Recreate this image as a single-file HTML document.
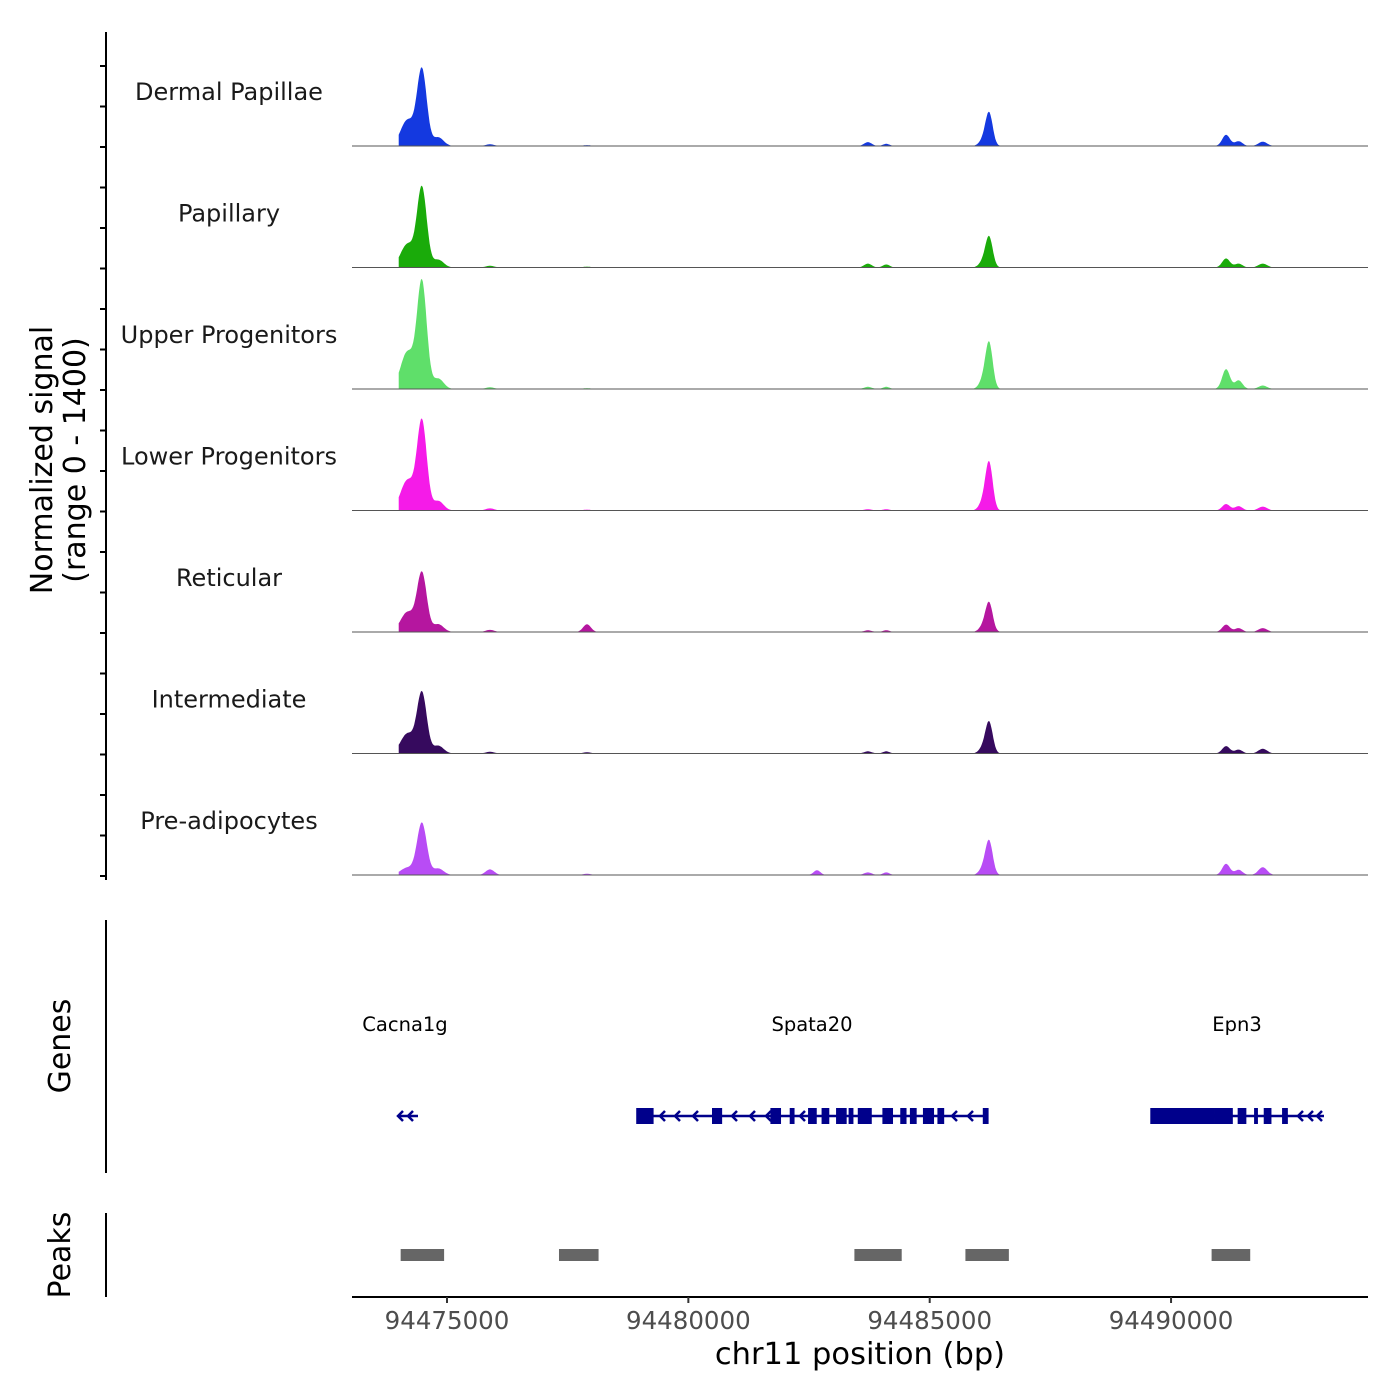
<!DOCTYPE html>
<html><head><meta charset="utf-8"><style>
body{margin:0;background:#fff}
svg{display:block;font-family:"DejaVu Sans","Liberation Sans",sans-serif}
</style></head><body>
<svg id="chart" width="1400" height="1400" viewBox="0 0 1400 1400" xmlns="http://www.w3.org/2000/svg"></svg>
<script>
const trackNames=["Dermal Papillae","Papillary","Upper Progenitors","Lower Progenitors","Reticular","Intermediate","Pre-adipocytes"];
const trackColors=["#1439e0","#1aab0a","#5fdf6a","#f51be8","#b5169f","#360a5e","#b84cf5"];
const peakCenters=[94474180,94474480,94474820,94477900,94475890,94482665,94483720,94484100,94486100,94486230,94491140,94491400,94491900];
const peakWidths=[140,100,110,80,90,70,80,70,80,75,80,80,90];
const heightsDermal=[300,880,100,10,20,0,45,25,60,380,130,55,50];
const heightsPapillary=[270,920,90,10,20,0,45,35,60,350,105,45,45];
const heightsUpper=[430,1230,120,10,20,0,25,25,90,530,230,100,40];
const heightsLower=[350,1030,110,10,25,0,15,15,90,550,75,50,45];
const heightsReticular=[230,680,90,90,25,0,20,20,60,335,85,45,45];
const heightsIntermediate=[230,700,90,15,20,0,25,25,60,360,85,45,55];
const heightsPre=[85,600,75,15,65,55,30,30,70,390,130,60,90];
const trackHeights=[heightsDermal,heightsPapillary,heightsUpper,heightsLower,heightsReticular,heightsIntermediate,heightsPre];
const trackStart=94474000, trackEnd=94493080;
const xTicks=[94475000,94480000,94485000,94490000];
const xTickLabels=["94475000","94480000","94485000","94490000"];
const peakRegions=[[94474040,94474940],[94477320,94478140],[94483440,94484420],[94485740,94486640],[94490840,94491640]];
const spataExons=[[94478920,94479280],[94480490,94480700],[94481700,94481920],[94482100,94482200],[94482480,94482660],[94482760,94482920],[94483060,94483280],[94483320,94483420],[94483510,94483800],[94484020,94484240],[94484390,94484520],[94484590,94484730],[94484860,94485090],[94485160,94485300],[94486100,94486220]];
const epnExons=[[94489570,94490900],[94490900,94491280],[94491380,94491560],[94491720,94491800],[94491920,94492080],[94492300,94492420]];

const svg=document.getElementById('chart');
const NS="http://www.w3.org/2000/svg";
const x=bp=>447+(bp-94475000)*0.04827;
const trackH=121.5, base0=146;
const yv=v=>v*121/1400;
function mk(tag,attrs,txt){const e=document.createElementNS(NS,tag);for(const k in attrs)e.setAttribute(k,attrs[k]);if(txt!==undefined)e.textContent=txt;svg.appendChild(e);return e;}

let e=mk('line',{x1:106,y1:32,x2:106,y2:880,stroke:'#000','stroke-width':2});


for(let i=0;i<=21;i++){const ty=base0-trackH+ (i)*trackH/3 +1; if(ty<35||ty>880)continue;
 e=mk('line',{x1:100,y1:ty,x2:106,y2:ty,stroke:'#000','stroke-width':2});
 
 }
e=mk('text',{x:0,y:0,'font-size':30,'text-anchor':'middle',transform:'translate(52,460) rotate(-90)'},'Normalized signal');


e=mk('text',{x:0,y:0,'font-size':30,'text-anchor':'middle',transform:'translate(85,460) rotate(-90)'},'(range 0 - 1400)');



trackNames.forEach((n,t)=>{
 const base=base0+t*trackH;
 const hs=trackHeights[t];
 let d=`M${x(trackStart)},${base}`;
 for(let bp=trackStart;bp<=trackEnd;bp+=20){
  let v=0;peakCenters.forEach((c,i)=>{const z=(bp-c)/peakWidths[i];v+=hs[i]*Math.exp(-z*z/2);});
  d+=`L${x(bp).toFixed(1)},${(base-yv(v)).toFixed(1)}`;}
 d+=`L${x(trackEnd)},${base}Z`;
 e=mk('path',{d:d,fill:trackColors[t]});
 
 
 e=mk('line',{x1:352,y1:base,x2:1368,y2:base,stroke:'#555','stroke-width':1});
 
 
 e=mk('text',{x:229,y:base-46,'font-size':24,'text-anchor':'middle',fill:'#1a1a1a'},n);
 
 
});

e=mk('line',{x1:106,y1:920,x2:106,y2:1173,stroke:'#000','stroke-width':2});


e=mk('text',{x:0,y:0,'font-size':30,'text-anchor':'middle',transform:'translate(70,1046) rotate(-90)'},'Genes');


const gy=1116, navy='#00008b';
[['Cacna1g',405],['Spata20',812],['Epn3',1237]].forEach(([g,gx])=>{
 e=mk('text',{x:gx,y:1031,'font-size':19.5,'text-anchor':'middle'},g);
 
 });
function arrowsAt(xs){xs.forEach(ax=>{e=mk('path',{d:`M${ax+5},${gy-5}L${ax},${gy}L${ax+5},${gy+5}`,stroke:navy,'stroke-width':2.5,fill:'none'});
 
 });}
e=mk('line',{x1:398,y1:gy,x2:418,y2:gy,stroke:navy,'stroke-width':2.5});


arrowsAt([398,408]);
e=mk('line',{x1:638,y1:gy,x2:987,y2:gy,stroke:navy,'stroke-width':2.5});


arrowsAt([660,675,693,732,750,766,800,840,952,968]);
spataExons.forEach(([a,b])=>{e=mk('rect',{x:x(a),y:gy-8,width:Math.max(3,x(b)-x(a)),height:16,fill:navy});
 
 });
e=mk('line',{x1:1152,y1:gy,x2:1324,y2:gy,stroke:navy,'stroke-width':2.5});


arrowsAt([1298,1308,1317]);
epnExons.forEach(([a,b])=>{e=mk('rect',{x:x(a),y:gy-8,width:Math.max(3,x(b)-x(a)),height:16,fill:navy});
 
 });

e=mk('line',{x1:106,y1:1213,x2:106,y2:1297,stroke:'#000','stroke-width':2});


e=mk('text',{x:0,y:0,'font-size':30,'text-anchor':'middle',transform:'translate(70,1255) rotate(-90)'},'Peaks');


peakRegions.forEach(([a,b])=>{e=mk('rect',{x:x(a),y:1249,width:x(b)-x(a),height:12,fill:'#666'});
 
 });

e=mk('line',{x1:352,y1:1297,x2:1368,y2:1297,stroke:'#000','stroke-width':2});


xTicks.forEach((t,i)=>{
 e=mk('line',{x1:x(t),y1:1297,x2:x(t),y2:1303,stroke:'#333','stroke-width':2});
 
 
 e=mk('text',{x:x(t),y:1329,'font-size':24.5,'text-anchor':'middle',fill:'#4d4d4d'},xTickLabels[i]);
 
 });
e=mk('text',{x:860,y:1364,'font-size':30.5,'text-anchor':'middle'},'chr11 position (bp)');


</script>
</body></html>
